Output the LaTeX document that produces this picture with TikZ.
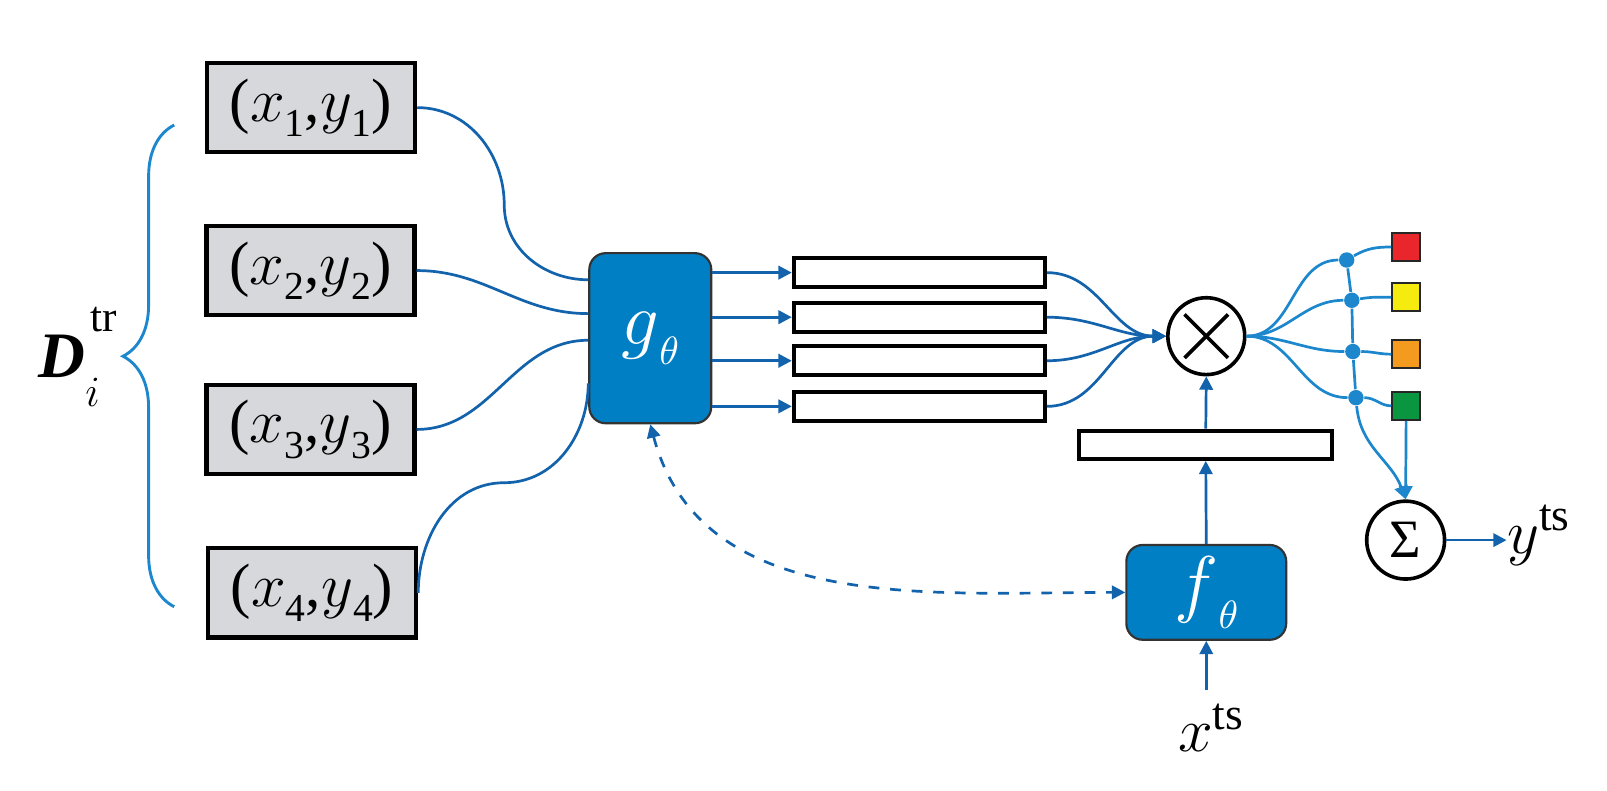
\documentclass[tikz,border=0pt]{standalone}
\usepackage{fontspec}
\setmainfont{Liberation Serif}
\usetikzlibrary{arrows.meta,decorations.pathreplacing}
\definecolor{netblue}{RGB}{0,127,196}
\definecolor{wireblue}{RGB}{18,98,172}
\definecolor{fanblue}{RGB}{28,135,204}
\definecolor{boxgray}{RGB}{214,216,220}
\definecolor{cred}{RGB}{232,38,43}
\definecolor{cyellow}{RGB}{246,235,14}
\definecolor{corange}{RGB}{243,154,31}
\definecolor{cgreen}{RGB}{10,150,64}
\newcommand{\lowsub}[1]{\raisebox{-0.55ex}{\fontsize{11}{13}\selectfont #1}}
\newcommand{\pair}[1]{($x$\lowsub{#1},$y$\lowsub{#1})}

\begin{document}
\begin{tikzpicture}[
  databox/.style={draw=black,line width=1.2pt,fill=boxgray,minimum width=2.03cm,minimum height=0.87cm,inner sep=0pt,font=\fontsize{17}{20}\selectfont},
  netbox/.style={draw=black!80,line width=0.6pt,fill=netblue,rounded corners=0.16cm,text=white,inner sep=0pt,font=\fontsize{22}{26}\selectfont},
  featbar/.style={draw=black,line width=1.1pt,fill=white,minimum width=2.45cm,minimum height=0.28cm,inner sep=0pt},
  opcirc/.style={circle,draw=black,line width=1pt,minimum size=0.75cm,inner sep=0pt},
  joint/.style={circle,fill=fanblue,minimum size=0.15cm,inner sep=0pt},
  classbox/.style={draw=black!85,line width=0.6pt,minimum size=0.27cm,inner sep=0pt},
  wire/.style={draw=wireblue,line width=0.75pt},
  fan/.style={draw=fanblue,line width=0.75pt},
  tip/.style={-{Triangle[length=1.3mm,width=1.3mm]}},
  lbl/.style={inner sep=0pt,font=\fontsize{18}{21}\selectfont}
]
\useasboundingbox (0,0) rectangle (15.68,-7.71);

\node[databox] (b1) at (3.035,-1.05) {\pair{1}};
\node[databox] (b2) at (3.03,-2.64) {\pair{2}};
\node[databox] (b3) at (3.03,-4.19) {\pair{3}};
\node[databox] (b4) at (3.045,-5.785) {\pair{4}};

\draw[fanblue,line width=0.8pt,decorate,decoration={brace,amplitude=0.5cm,aspect=0.52}] (1.70,-5.92) -- (1.70,-1.22);
\node[lbl,anchor=base west] (dtr) at (0.37,-3.68) {\textbf{\textit{D}}\rlap{\hspace{0.08em}\raisebox{1.55ex}{\fontsize{12}{14}\selectfont tr}}\raisebox{-1.0ex}{\fontsize{12}{14}\selectfont$i$}};

\node[netbox,minimum width=1.19cm,minimum height=1.66cm] (g) at (6.345,-3.30) {$g$\lowsub{$\theta$}};
\node[netbox,minimum width=1.56cm,minimum height=0.925cm] (f) at (11.77,-5.78) {$f$\lowsub{$\theta$}};

\node[featbar] (r1) at (8.97,-2.66) {};
\node[featbar] (r2) at (8.97,-3.095) {};
\node[featbar] (r3) at (8.97,-3.52) {};
\node[featbar] (r4) at (8.97,-3.965) {};
\node[featbar,minimum width=2.47cm,minimum height=0.275cm] (emb) at (11.765,-4.34) {};

\node[opcirc] (mul) at (11.77,-3.28) {};
\draw[line width=1pt] ([shift={(45:0.3)}]mul.center) -- ([shift={(225:0.3)}]mul.center);
\draw[line width=1pt] ([shift={(135:0.3)}]mul.center) -- ([shift={(-45:0.3)}]mul.center);
\node[opcirc,minimum size=0.76cm,font=\fontsize{15}{18}\selectfont] (sum) at (13.715,-5.27) {Σ};

\node[joint] (d1) at (13.14,-2.537) {};
\node[joint] (d2) at (13.19,-2.93) {};
\node[joint] (d3) at (13.20,-3.43) {};
\node[joint] (d4) at (13.23,-3.88) {};
\node[classbox,fill=cred] (s1) at (13.72,-2.41) {};
\node[classbox,fill=cyellow] (s2) at (13.72,-2.90) {};
\node[classbox,fill=corange] (s3) at (13.72,-3.456) {};
\node[classbox,fill=cgreen] (s4) at (13.72,-3.96) {};

\node[lbl,anchor=west] (yts) at (14.70,-5.22) {$y$\textsuperscript{ts}};
\node[lbl,anchor=north] (xts) at (11.82,-6.86) {$x$\textsuperscript{ts}};
\coordinate (xin) at (11.77,-6.73);

\draw[wire] (b1.east) to[out=0,in=90] (4.92,-2.0) to[out=-90,in=180] ([yshift=0.57cm]g.west);
\draw[wire] (b2.east) to[out=0,in=180] ([yshift=0.24cm]g.west);
\draw[wire] (b3.east) to[out=0,in=180] ([yshift=-0.02cm]g.west);
\draw[wire] (b4.east) to[out=90,in=180] (4.92,-4.71) to[out=0,in=-90] ([yshift=-0.44cm]g.west);

\foreach \r in {r1,r2,r3,r4}{
  \draw[wire,tip] (g.east |- \r.west) -- (\r.west);
  \draw[wire,tip] (\r.east) to[out=0,in=180] (mul.west);
}
\draw[wire,tip] (f.north) -- (emb.south);
\draw[wire,tip] (emb.north) -- (mul.south);
\draw[wire,tip] (xin) -- (f.south);
\draw[wire,dashed,{Triangle[length=1.3mm,width=1.3mm]}-{Triangle[length=1.3mm,width=1.3mm]}] (g.south) to[out=-75,in=180] (f.west);

\foreach \d in {d1,d2,d3,d4}
  \draw[fan] (mul.east) to[out=0,in=180] (\d);
\draw[fan] (d1) to[out=30,in=180] (s1.west);
\draw[fan] (d2) to[out=10,in=180] (s2.west);
\draw[fan] (d3) to[out=0,in=180] (s3.west);
\draw[fan] (d4) to[out=0,in=180] (s4.west);
\draw[fan] (d1) -- (d2) -- (d3) -- (d4);
\draw[fan,tip] (d4) to[out=-85,in=110] (sum.north);
\draw[fan,tip] (s4.south) -- (sum.north);
\draw[wire,tip] (sum.east) -- (sum.east -| yts.west);
\end{tikzpicture}
\end{document}
